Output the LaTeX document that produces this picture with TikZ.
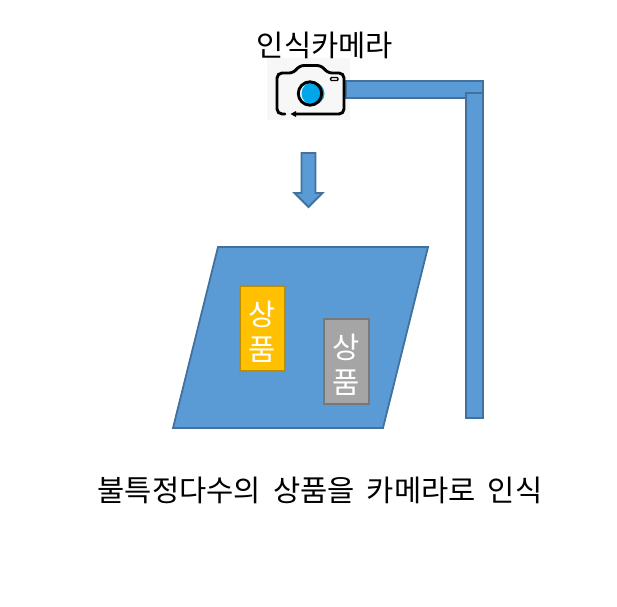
\documentclass[tikz,border=0pt]{standalone}
\usepackage{fontspec}
\newfontfamily\krfont{Noto Sans CJK KR}
\definecolor{barblue}{HTML}{5B9BD5}
\definecolor{barline}{HTML}{41719C}
\definecolor{boxyellow}{HTML}{FFC000}
\definecolor{boxyellowline}{HTML}{BC8C00}
\definecolor{boxgray}{HTML}{A5A5A5}
\definecolor{boxgrayline}{HTML}{787878}
\definecolor{lensblue}{HTML}{00A6E8}
\definecolor{camback}{HTML}{F7F7F7}

\begin{document}
\begin{tikzpicture}[x=1pt,y=-1pt,
                    label text/.style={font=\krfont\fontsize{29.6}{35}\selectfont,inner sep=0pt,align=center},
                    bar/.style={rectangle,draw=barline,fill=barblue,line width=1.8pt,anchor=north west,inner sep=0pt,outer sep=0pt},
                    item/.style={rectangle,line width=1.8pt,anchor=north west,inner sep=0pt,outer sep=0pt,
                                 minimum width=45pt,minimum height=85pt,text=white,font=\krfont\fontsize{29.6}{35}\selectfont,align=center},
                    icon line/.style={draw=black,line width=2.9pt,line cap=round}]
  \useasboundingbox (0,0) rectangle (617,606);
  % camera and its arm
  \node[fill=camback,anchor=north west,inner sep=0pt,minimum width=83pt,minimum height=62pt] (camback) at (267,58) {};
  \node[bar,minimum width=137pt,minimum height=17pt] (armtop) at (346,81) {};
  \node[bar,minimum width=17pt,minimum height=325pt] (armside) at (466,93) {};
  \node[label text] (camlabel) at (325,45) {인식카메라};
  \fill[lensblue] (313,93.5) circle (11.5);
  \draw[icon line] (310,93.5) circle (11.7);
  \draw[black,line width=1.4pt,rounded corners=1pt] (330.5,77.5) rectangle (338,80.5);
  \draw[icon line,rounded corners=5pt] (285,114) -- (277,114) -- (277,73) -- (294,73) -- (299,65.5)
        -- (322,65.5) -- (327,73) -- (344,73) -- (344,114) -- (295,114);
  \fill[black] (290.5,114) -- (296,111) -- (296,117) -- cycle;
  % arrow down
  \draw[barline,fill=barblue,line width=1.8pt,line join=miter]
    (301.5,153) -- (315.5,153) -- (315.5,193) -- (322.5,193) -- (308.5,207) -- (294.5,193) -- (301.5,193) -- cycle;
  % table
  \draw[barline,fill=barblue,line width=1.8pt] (218,247) -- (428,247) -- (383,428) -- (173,428) -- cycle;
  \node[item,draw=boxyellowline,fill=boxyellow] (item1) at (240,286) {\rule{0pt}{30pt}상\\품};
  \node[item,draw=boxgrayline,fill=boxgray] (item2) at (324,319) {\rule{0pt}{30pt}상\\품};
  \node[label text] (caption) at (320,490) {\spaceskip=12pt\relax 불특정다수의 상품을 카메라로 인식};
\end{tikzpicture}
\end{document}
